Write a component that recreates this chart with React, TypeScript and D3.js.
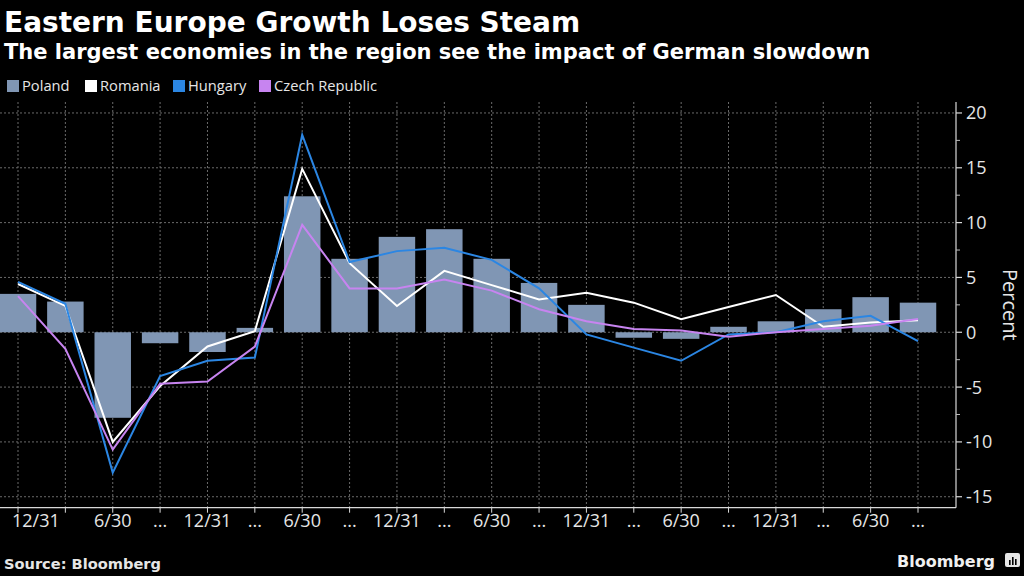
import React from "react";
import * as d3 from "d3";

const W = 1024;
const H = 576;

const categories = [
  "2019-12-31", "2020-03-31", "2020-06-30", "2020-09-30",
  "2020-12-31", "2021-03-31", "2021-06-30", "2021-09-30",
  "2021-12-31", "2022-03-31", "2022-06-30", "2022-09-30",
  "2022-12-31", "2023-03-31", "2023-06-30", "2023-09-30",
  "2023-12-31", "2024-03-31", "2024-06-30", "2024-09-30",
];
const tickLabels = [
  "12/31", "", "6/30", "...", "12/31", "...", "6/30", "...", "12/31", "...",
  "6/30", "...", "12/31", "...", "6/30", "...", "12/31", "...", "6/30", "...",
];

const poland = [3.5, 2.8, -7.8, -1.0, -1.8, 0.4, 12.4, 6.7, 8.7, 9.4, 6.7, 4.5, 2.5, -0.5, -0.6, 0.5, 1.0, 2.1, 3.2, 2.7];
const romania = [4.4, 2.4, -10.0, -4.9, -1.3, 0.1, 14.9, 6.3, 2.4, 5.6, 4.3, 3.0, 3.6, 2.7, 1.2, 2.3, 3.4, 0.5, 0.9, 1.1];
const hungary = [4.6, 2.6, -12.8, -4.0, -2.6, -2.3, 18.0, 6.4, 7.4, 7.7, 6.6, 4.0, -0.2, -1.4, -2.6, -0.2, 0.0, 1.0, 1.5, -0.8];
const czech = [3.3, -1.5, -10.7, -4.7, -4.5, -1.3, 9.8, 4.0, 4.0, 4.8, 3.8, 2.1, 1.0, 0.3, 0.15, -0.4, 0.0, 0.3, 0.6, 1.2];

const yTicks = [20, 15, 10, 5, 0, -5, -10, -15];
const yMinorTicks = [17.5, 12.5, 7.5, 2.5, -2.5, -7.5, -12.5];

const COLORS = {
  poland: "#8096b4",
  romania: "#ffffff",
  hungary: "#2b86e3",
  czech: "#c784f0",
};

const legendItems = [
  { name: "Poland", color: COLORS.poland },
  { name: "Romania", color: COLORS.romania },
  { name: "Hungary", color: COLORS.hungary },
  { name: "Czech Republic", color: COLORS.czech },
];

const lineSeries = [
  { key: "romania", values: romania, color: COLORS.romania },
  { key: "hungary", values: hungary, color: COLORS.hungary },
  { key: "czech", values: czech, color: COLORS.czech },
];

// layout
const axisX = 956;
const plotTop = 102;
const plotBottom = 507.7;
const firstCenter = 18;
const lastCenter = 918;
const legendPos = [7, 85, 173, 259];

const AXIS_FONT = "'Open Sans', 'DejaVu Sans', sans-serif";
const BOLD_FONT = "'DejaVu Sans', sans-serif";

export default function App() {
  const step = (lastCenter - firstCenter) / (categories.length - 1);
  const x = d3
    .scaleBand<string>()
    .domain(categories)
    .range([firstCenter - step / 2, lastCenter + step / 2])
    .paddingInner(0.23)
    .paddingOuter(0.115);
  const cx = (c: string) => (x(c) as number) + x.bandwidth() / 2;

  const y = d3.scaleLinear().domain([-16, 21]).range([plotBottom, plotTop]);

  const line = d3
    .line<number>()
    .x((_, i) => cx(categories[i]))
    .y((d) => y(d));

  const fmt = (v: number) => (v < 0 ? "-" + Math.abs(v) : String(v));

  return (
    <svg
      width={W}
      height={H}
      style={{ position: "absolute", left: 0, top: 0, background: "#000" }}
    >
      <rect x={0} y={0} width={W} height={H} fill="#000" />
      {/* Titles */}
      <text x={4} y={32} fill="#fff" fontFamily={BOLD_FONT} fontWeight="bold" fontSize={28}>
        Eastern Europe Growth Loses Steam
      </text>
      <text x={4} y={59} fill="#fff" fontFamily={BOLD_FONT} fontWeight="bold" fontSize={21}>
        The largest economies in the region see the impact of German slowdown
      </text>

      {/* Legend */}
      {legendItems.map((it, i) => (
        <g key={it.name} transform={`translate(${legendPos[i]},0)`}>
          <rect x={0} y={80} width={12} height={12} fill={it.color} />
          <text x={15} y={91} fill="#e6e6e6" fontFamily={AXIS_FONT} fontSize={14.7}>
            {it.name}
          </text>
        </g>
      ))}

      {/* Grid */}
      <g stroke="#6a6a6a" strokeWidth={1} strokeDasharray="2,2">
        {yTicks.map((t) => (
          <line key={"h" + t} x1={0} x2={axisX} y1={y(t)} y2={y(t)} />
        ))}
        {categories.map((c) => (
          <line key={"v" + c} x1={cx(c)} x2={cx(c)} y1={plotTop} y2={plotBottom} />
        ))}
      </g>

      {/* Bars */}
      {poland.map((v, i) => (
        <rect
          key={"b" + i}
          x={x(categories[i])}
          width={x.bandwidth()}
          y={y(Math.max(0, v))}
          height={Math.abs(y(v) - y(0))}
          fill={COLORS.poland}
        />
      ))}

      {/* Lines */}
      {lineSeries.map((s) => (
        <path
          key={s.key}
          d={line(s.values) || ""}
          fill="none"
          stroke={s.color}
          strokeWidth={2}
          strokeLinejoin="miter"
        />
      ))}

      {/* Right axis */}
      <line x1={axisX} x2={axisX} y1={plotTop} y2={plotBottom} stroke="#d9d9d9" strokeWidth={1.2} />
      {yTicks.map((t) => (
        <g key={"yt" + t}>
          <line x1={axisX} x2={axisX + 6} y1={y(t)} y2={y(t)} stroke="#d9d9d9" strokeWidth={1.2} />
          <text
            x={axisX + 10}
            y={y(t) + 6.5}
            fill="#e6e6e6"
            fontFamily={AXIS_FONT}
            fontSize={18}
          >
            {fmt(t)}
          </text>
        </g>
      ))}
      {yMinorTicks.map((t) => (
        <line key={"ym" + t} x1={axisX} x2={axisX + 4} y1={y(t)} y2={y(t)} stroke="#bbbbbb" strokeWidth={1} />
      ))}
      <text
        transform={`translate(1003, ${(plotTop + plotBottom) / 2}) rotate(90)`}
        textAnchor="middle"
        fill="#e6e6e6"
        fontFamily={AXIS_FONT}
        fontSize={20}
      >
        Percent
      </text>

      {/* Bottom axis */}
      <line x1={0} x2={axisX} y1={plotBottom} y2={plotBottom} stroke="#d9d9d9" strokeWidth={1.2} />
      {categories.map((c, i) => (
        <g key={"xt" + c}>
          <line x1={cx(c)} x2={cx(c)} y1={plotBottom} y2={plotBottom + 5} stroke="#d9d9d9" strokeWidth={1} />
          {tickLabels[i] ? (
            <text
              x={i === 0 ? 12 : cx(c)}
              y={527}
              textAnchor={i === 0 ? "start" : "middle"}
              fill="#e6e6e6"
              fontFamily={AXIS_FONT}
              fontSize={18}
            >
              {tickLabels[i]}
            </text>
          ) : null}
        </g>
      ))}

      {/* Footer */}
      <text x={4} y={569} fill="#e6e6e6" fontFamily={BOLD_FONT} fontWeight="bold" fontSize={14.6}>
        Source: Bloomberg
      </text>
      <text x={995} y={567} textAnchor="end" fill="#f0f0f0" fontFamily={BOLD_FONT} fontWeight="bold" fontSize={16}>
        Bloomberg
      </text>
      <g transform="translate(1005,553)">
        <rect x={0} y={0} width={15} height={14} rx={2} fill="#e6e6e6" />
        <rect x={4} y={7} width={1.6} height={5} fill="#000" />
        <rect x={7} y={4} width={1.6} height={8} fill="#000" />
        <rect x={10} y={6} width={1.6} height={6} fill="#000" />
      </g>
    </svg>
  );
}
